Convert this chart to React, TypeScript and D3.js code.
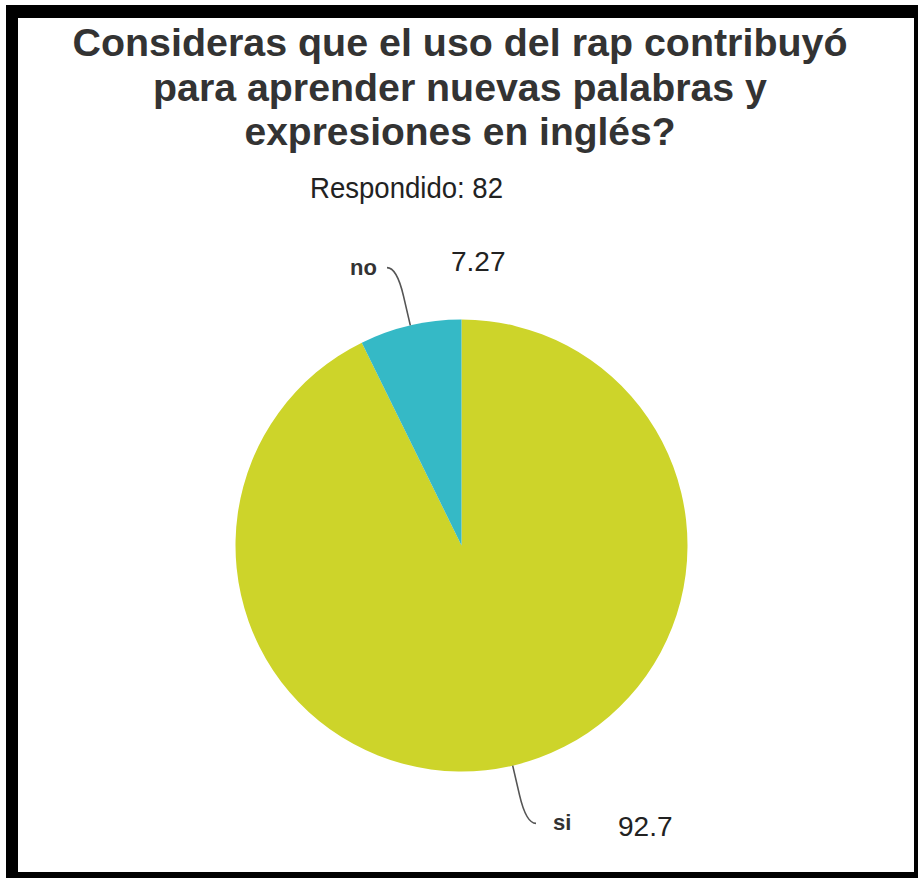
import React, { useEffect, useRef } from 'react';
import * as d3 from 'd3';

const titleLines = [
  'Consideras que el uso del rap contribuyó',
  'para aprender nuevas palabras y',
  'expresiones en inglés?',
];
const titleWidths = [775, 614, 431];
const answered = 82;
const categories = ['si', 'no'];
const values = [92.7, 7.27];
const valueLabels = ['92.7', '7.27'];
const colors = ['#cdd42a', '#35b9c6'];

const W = 918;
const H = 881;

const App: React.FC = () => {
  const svgRef = useRef<SVGSVGElement>(null);

  useEffect(() => {
    if (!svgRef.current) return;
    const svg = d3.select(svgRef.current);
    svg.selectAll('*').remove();

    // frame
    svg.append('rect').attr('x', 6).attr('y', 5).attr('width', W - 6).attr('height', 873).attr('fill', '#000');
    svg.append('rect').attr('x', 18).attr('y', 18).attr('width', 896).attr('height', 854).attr('fill', '#fff');

    const font = '"Liberation Sans", Arial, sans-serif';

    // title
    svg
      .append('g')
      .selectAll('text')
      .data(titleLines)
      .enter()
      .append('text')
      .attr('x', 460)
      .attr('y', (_, i) => 56 + i * 44.5)
      .attr('text-anchor', 'middle')
      .attr('textLength', (_, i) => titleWidths[i])
      .attr('lengthAdjust', 'spacingAndGlyphs')
      .style('font-family', font)
      .style('font-weight', 'bold')
      .style('font-size', '39px')
      .style('fill', '#333')
      .text(d => d);

    svg
      .append('text')
      .attr('x', 406.5)
      .attr('y', 198)
      .attr('text-anchor', 'middle')
      .attr('textLength', 193)
      .attr('lengthAdjust', 'spacingAndGlyphs')
      .style('font-family', font)
      .style('font-size', '29px')
      .style('fill', '#222')
      .text(`Respondido: ${answered}`);

    // pie
    const cx = 461.5;
    const cy = 545.5;
    const r = 226;

    const pie = d3
      .pie<number>()
      .sort(null)
      .value(d => d);
    const arcs = pie(values);
    const arc = d3.arc<d3.PieArcDatum<number>>().innerRadius(0).outerRadius(r);

    const g = svg.append('g').attr('transform', `translate(${cx},${cy})`);

    g.selectAll('path.slice')
      .data(arcs)
      .enter()
      .append('path')
      .attr('class', 'slice')
      .attr('d', arc)
      .attr('fill', (_, i) => colors[i]);

    const pt = (a: number, rad: number): [number, number] => [Math.sin(a) * rad, -Math.cos(a) * rad];

    arcs.forEach((d, i) => {
      const a = (d.startAngle + d.endAngle) / 2;
      const sx = Math.sin(a) >= 0 ? 1 : -1;
      const sy = -Math.cos(a) >= 0 ? 1 : -1;
      const p0 = pt(a, r);
      const pA = pt(a, r + 30);
      const pB = pt(a, r + 50);
      const p2: [number, number] = [pB[0] + sx * 12, pB[1] + sy * 9];

      const path = d3.path();
      path.moveTo(p0[0], p0[1]);
      path.lineTo(pA[0], pA[1]);
      path.bezierCurveTo(pB[0], pB[1], p2[0] - sx * 6, p2[1], p2[0], p2[1]);
      g.append('path')
        .attr('d', path.toString())
        .attr('fill', 'none')
        .attr('stroke', '#555')
        .attr('stroke-width', 1.6);

      const right = sx > 0;
      g.append('text')
        .attr('x', right ? p2[0] + 17 : p2[0] - 10)
        .attr('y', p2[1] + 7)
        .attr('text-anchor', right ? 'start' : 'end')
        .style('font-family', font)
        .style('font-weight', 'bold')
        .style('font-size', '22px')
        .style('fill', '#333')
        .text(categories[i]);

      g.append('text')
        .attr('x', right ? p2[0] + 82 : p2[0] + 64)
        .attr('y', right ? p2[1] + 13 : p2[1] + 3)
        .attr('text-anchor', 'start')
        .style('font-family', font)
        .style('font-size', '28px')
        .style('fill', '#222')
        .text(valueLabels[i]);
    });
  }, []);

  return (
    <svg
      ref={svgRef}
      width={W}
      height={H}
      style={{ position: 'absolute', left: 0, top: 0, background: '#fff' }}
    />
  );
};

export default App;
